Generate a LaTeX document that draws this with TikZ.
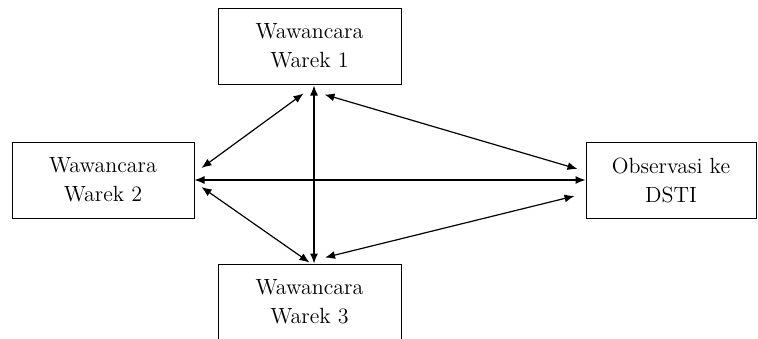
\documentclass[tikz,border=0pt]{standalone}
\usepackage{tikz}
\usetikzlibrary{arrows.meta,positioning,calc}

\begin{document}
\begin{tikzpicture}[x=0.5pt, y=-0.5pt,
    box/.style={draw, line width=0.5pt, align=center, inner sep=2pt,
        minimum width=91.5pt, minimum height=38pt,
        font=\fontsize{11}{14.5}\selectfont},
    link/.style={line width=0.6pt, {Latex[length=5pt,width=4pt]}-{Latex[length=5pt,width=4pt]}}]
    \useasboundingbox (0,0) rectangle (758,338);
    % Boxes
    \node[box] (warek1) at (309.5,46) {Wawancara\\Warek 1};
    \node[box, minimum width=91pt] (warek2) at (103,180) {Wawancara\\Warek 2};
    \node[box] (warek3) at (309.5,302) {Wawancara\\Warek 3};
    \node[box, minimum width=85pt] (obs) at (671,180) {Observasi ke\\DSTI};
    % Arrows
    \draw[link] ($(warek1.south)+(4.5,1)$) -- ($(warek3.north)+(4.5,0)$);
    \draw[link] (warek2.east) -- (obs.west);
    \draw[link] ($(warek1.south)+(-6,9)$) -- ($(warek2.east)+(7,-12)$);
    \draw[link] ($(warek1.south)+(15,10)$) -- ($(obs.west)+(-8,-11)$);
    \draw[link] ($(warek2.east)+(7,7)$) -- ($(warek3.north)+(0,-1)$);
    \draw[link] ($(warek3.north)+(15.5,-6)$) -- ($(obs.west)+(-11,16)$);
\end{tikzpicture}
\end{document}
